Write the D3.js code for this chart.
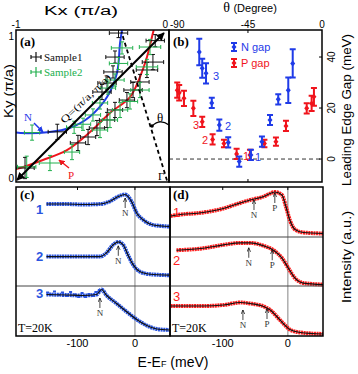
<!DOCTYPE html>
<html>
<head>
<meta charset="utf-8">
<script src="https://cdn.jsdelivr.net/npm/d3@7"></script>
<style>body{margin:0;background:#fff;}</style>
</head>
<body>
<script>
// ---- panel (a): Fermi surface curves and kF points  [kx, ky] / [kx, ky, dkx, dky]
var nCurve = [[-1.0,0.325],[-0.97,0.322],[-0.78,0.329],[-0.65,0.355],[-0.52,0.428],[-0.405,0.559],[-0.34,0.717],[-0.32,0.914],[-0.307,1.0]];
var pCurve = [[-1.0,0.085],[-0.974,0.092],[-0.824,0.145],[-0.667,0.21],[-0.516,0.329],[-0.386,0.454],[-0.255,0.559],[-0.19,0.69],[-0.144,0.822],[-0.105,0.98],[-0.1,1.0]];
var sample1 = [[-0.73,0.33,0.06,0.05],[-0.438,0.592,0.06,0.05],[-0.405,0.651,0.06,0.04],[-0.366,0.724,0.06,0.04],[-0.353,0.822,0.06,0.04],[-0.33,0.98,0.06,0.03],
  [-0.941,0.092,0.06,0.07],[-0.595,0.257,0.05,0.05],[-0.529,0.296,0.05,0.05],[-0.471,0.355,0.05,0.05],[-0.405,0.408,0.05,0.05],[-0.353,0.474,0.05,0.05],
  [-0.275,0.539,0.05,0.05],[-0.235,0.605,0.06,0.05],[-0.19,0.658,0.06,0.05],[-0.144,0.737,0.07,0.05],[-0.105,0.789,0.07,0.05],[-0.09,0.93,0.06,0.04]];
var sample2 = [[-0.895,0.325,0.05,0.05],[-0.62,0.36,0.05,0.04],[-0.562,0.38,0.05,0.04],[-0.497,0.441,0.05,0.04],[-0.451,0.52,0.05,0.04],[-0.399,0.618,0.05,0.04],
  [-0.353,0.671,0.06,0.04],[-0.33,0.78,0.06,0.04],[-0.307,0.882,0.07,0.04],
  [-0.93,0.10,0.06,0.07],[-0.778,0.125,0.07,0.05],[-0.634,0.197,0.05,0.05],[-0.451,0.342,0.05,0.05],[-0.386,0.408,0.05,0.05],[-0.32,0.474,0.05,0.05],
  [-0.255,0.53,0.05,0.05],[-0.19,0.605,0.06,0.05],[-0.144,0.757,0.07,0.05],[-0.124,0.888,0.07,0.05]];

// ---- panel (b): leading edge gap vs theta
var thetaN = [-74.6,-72.8,-70.5,-67,-62.4,-57,-50.3,-43.2,-36.5,-31.6,-26.6,-20.5,-17.8];
var gapN   = [42,35.6,33.6,22,13.3,6.5,-1,1.6,6.8,15.3,23.4,27,37.5];
var errN   = [5.2,3.7,4,2,2.2,2,2,2,2,2,2,5,5.5];
var thetaP = [-88,-86.8,-83.9,-78.2,-72.8,-66.5,-59.6,-51.9,-43.8,-35,-28,-21.9,-9.3,-6.3,-4.9];
var gapP   = [27,26,23.8,19.9,14.6,7.7,6.1,2,1.6,6.1,6.8,13,19.9,21.8,24.4];
var errP   = [3,3,3,3,2,2,1.5,2,2,1.5,1.6,2,2,3,3.5];
var gapTicks = [0,20,40];

// ---- panels (c),(d): EDCs, energy (meV) and intensity (a.u.)
var c1E = [-154,-120,-90,-60,-44,-29,-17.5,-6,3,14.6,32,60];
var c1I = [0.66,0.66,0.65,0.66,0.71,0.81,0.85,0.71,0.48,0.34,0.24,0.21];
var c2E = [-154,-120,-90,-61,-50,-38,-29,-20.5,-12,-3,9,26,60];
var c2I = [0.6,0.6,0.6,0.6,0.67,0.84,0.9,0.84,0.63,0.43,0.29,0.24,0.22];
var c3E = [-154,-119,-91,-67,-58,-50,-32,-15,3,20.5,38,60];
var c3I = [0.83,0.82,0.81,0.83,0.93,0.82,0.65,0.49,0.33,0.21,0.14,0.12];
var c3DotsE = [-152,-146,-140,-133,-126,-119,-112,-105,-98,-92,-86,-80,-74,-68,-62];
var c3DotsI = [0.87,0.83,0.89,0.82,0.87,0.80,0.88,0.83,0.78,0.86,0.78,0.84,0.80,0.88,0.92];
var d1E = [-180,-171,-130,-99,-78,-58,-37,-27,-20,-9,-3,3,11,24,54];
var d1I = [0.42,0.44,0.49,0.57,0.66,0.74,0.81,0.87,0.9,0.84,0.61,0.34,0.15,0.09,0.07];
var d2E = [-171,-130,-99,-73,-58,-37,-22,-9,1,11,24,54];
var d2I = [0.73,0.77,0.84,0.88,0.88,0.82,0.73,0.57,0.36,0.16,0.06,0.03];
var d3E = [-180,-171,-130,-99,-73,-58,-37,-27,-17,-7,3,19,54];
var d3I = [0.6,0.6,0.6,0.62,0.67,0.65,0.59,0.52,0.39,0.25,0.13,0.07,0.04];
// arrows: [energy, intensity at tip, label]
var cArrows = [[[-17,0.78,"N"]],[[-29,0.82,"N"]],[[-61,0.76,"N"]]];
var dArrows = [[[-52,0.74,"N"],[-20,0.88,"P"]],[[-60,0.78,"N"],[-24,0.73,"P"]],[[-69,0.52,"N"],[-32,0.54,"P"]]];
var rowLabels = ["1","2","3"];
var eTicks = [-100,0];

var BLUE = "#1f3be8", RED = "#f0141c", GREEN = "#22b04e";
var serif = "'Liberation Serif','DejaVu Serif',serif";
var sans = "'Liberation Sans',Arial,sans-serif";

var svg = d3.select("body").append("svg").attr("width",358).attr("height",374);
var defs = svg.append("defs");
function mk(id, color, size){
  defs.append("marker").attr("id",id).attr("viewBox","0 0 10 10").attr("refX",9).attr("refY",5)
    .attr("markerWidth",size).attr("markerHeight",size).attr("orient","auto-start-reverse")
    .append("path").attr("d","M0,0L10,5L0,10z").attr("fill",color);
}
mk("ah","#000",4); mk("ahb",BLUE,4); mk("ahr",RED,4);
defs.append("marker").attr("id","sm").attr("viewBox","0 0 10 10").attr("refX",9).attr("refY",5)
  .attr("markerWidth",5).attr("markerHeight",5).attr("orient","auto")
  .append("path").attr("d","M0,1L9,5L0,9").attr("fill","none").attr("stroke","#000").attr("stroke-width",1.5);

// ================= panel (a)
var xa = d3.scaleLinear().domain([-1,0]).range([16,169]);
var ya = d3.scaleLinear().domain([0,1]).range([182,30]);
defs.append("clipPath").attr("id","ca").append("rect").attr("x",16).attr("y",30).attr("width",153).attr("height",152);
var ga = svg.append("g").attr("clip-path","url(#ca)");
var lineA = d3.line().x(function(d){return xa(d[0]);}).y(function(d){return ya(d[1]);}).curve(d3.curveCatmullRom);
ga.append("path").datum(nCurve).attr("d",lineA).attr("fill","none").attr("stroke",BLUE).attr("stroke-width",2);
ga.append("path").datum(pCurve).attr("d",lineA).attr("fill","none").attr("stroke",RED).attr("stroke-width",2);

function crossPath(d){
  var x=xa(d[0]), y=ya(d[1]), x0=xa(d[0]-d[2]), x1=xa(d[0]+d[2]), y0=ya(d[1]-d[3]), y1=ya(d[1]+d[3]);
  return "M"+x0+","+y+"H"+x1+"M"+x+","+y0+"V"+y1+
    "M"+x0+","+(y-2)+"V"+(y+2)+"M"+x1+","+(y-2)+"V"+(y+2)+
    "M"+(x-2)+","+y0+"H"+(x+2)+"M"+(x-2)+","+y1+"H"+(x+2);
}
ga.selectAll(".s1").data(sample1).enter().append("path").attr("d",crossPath)
  .attr("fill","none").attr("stroke","#111").attr("stroke-width",1);
ga.selectAll(".s2").data(sample2).enter().append("path").attr("d",crossPath)
  .attr("fill","none").attr("stroke",GREEN).attr("stroke-width",1);

// Q arrow
svg.append("line").attr("x1",xa(-0.993)).attr("y1",ya(0.013)).attr("x2",xa(-0.033)).attr("y2",ya(0.98))
  .attr("stroke","#000").attr("stroke-width",2).attr("marker-end","url(#ah)").attr("marker-start","url(#ah)");
svg.append("text").attr("transform","translate(88,101) rotate(-44)")
  .attr("text-anchor","middle").attr("font-family",serif).attr("font-size",10)
  .attr("textLength",66).attr("lengthAdjust","spacingAndGlyphs").text("Q=(π/a, π/a)");
// dashed line from Gamma
svg.append("line").attr("x1",xa(-0.013)).attr("y1",ya(0.01)).attr("x2",xa(-0.31)).attr("y2",ya(0.985))
  .attr("stroke","#000").attr("stroke-width",1.8).attr("stroke-dasharray","4,3");
svg.append("circle").attr("cx",xa(-0.111)).attr("cy",ya(0.368)).attr("r",1.8).attr("fill","#000");
svg.append("path").attr("d","M"+xa(-0.111)+","+ya(0.368)+"Q"+xa(-0.06)+","+ya(0.42)+" "+xa(0)+","+ya(0.375))
  .attr("fill","none").attr("stroke","#000").attr("stroke-width",1.2);
svg.append("text").attr("x",157).attr("y",122).attr("font-family",serif).attr("font-size",13).text("θ");
svg.append("text").attr("x",158).attr("y",180).attr("font-family",serif).attr("font-size",11).text("Γ");
// N and P labels
svg.append("text").attr("x",24).attr("y",121).attr("font-family",serif).attr("font-size",11).attr("fill",BLUE).text("N");
svg.append("line").attr("x1",34).attr("y1",123).attr("x2",43).attr("y2",132).attr("stroke",BLUE).attr("stroke-width",1.5).attr("marker-end","url(#ahb)");
svg.append("text").attr("x",68).attr("y",179).attr("font-family",serif).attr("font-size",11).attr("fill",RED).text("P");
svg.append("line").attr("x1",69).attr("y1",168).attr("x2",59).attr("y2",160).attr("stroke",RED).attr("stroke-width",1.5).attr("marker-end","url(#ahr)");

// legend (a)
svg.append("text").attr("x",20).attr("y",46).attr("font-family",serif).attr("font-weight","bold").attr("font-size",13).text("(a)");
[["Sample1","#111",57],["Sample2",GREEN,72]].forEach(function(l){
  svg.append("path").attr("d","M31,"+l[2]+"H41M36,"+(l[2]-5)+"V"+(l[2]+5)+"M31,"+(l[2]-2)+"V"+(l[2]+2)+"M41,"+(l[2]-2)+"V"+(l[2]+2))
    .attr("stroke",l[1]).attr("stroke-width",1.2).attr("fill","none");
  svg.append("text").attr("x",44).attr("y",l[2]+4).attr("font-family",serif).attr("font-size",11).attr("fill",l[1]).text(l[0]);
});
svg.append("rect").attr("x",16).attr("y",30).attr("width",153).attr("height",152).attr("fill","none").attr("stroke","#000").attr("stroke-width",1.5);
// axis labels (a)
svg.append("text").attr("x",14).attr("y",40).attr("text-anchor","end").attr("font-family",sans).attr("font-size",10).text("1");
svg.append("text").attr("x",14).attr("y",182).attr("text-anchor","end").attr("font-family",sans).attr("font-size",10).text("0");
svg.append("text").attr("x",xa(-1)).attr("y",28).attr("text-anchor","middle").attr("font-family",sans).attr("font-size",10).text("-1");
svg.append("text").attr("x",168).attr("y",28).attr("text-anchor","end").attr("font-family",sans).attr("font-size",10).text("0");
svg.append("text").attr("x",81).attr("y",15).attr("text-anchor","middle").attr("font-family",sans).attr("font-size",12)
  .attr("textLength",74).attr("lengthAdjust","spacingAndGlyphs").text("Kx (π/a)");
svg.append("text").attr("transform","translate(13,91) rotate(-90)").attr("text-anchor","middle").attr("font-family",sans).attr("font-size",13)
  .attr("textLength",54).attr("lengthAdjust","spacingAndGlyphs").text("Ky (π/a)");

// ================= panel (b)
var xb = d3.scaleLinear().domain([-93,0]).range([169,322]);
var yb = d3.scaleLinear().domain([-9,50.2]).range([182,31]);
svg.append("line").attr("x1",169).attr("x2",322).attr("y1",yb(0)).attr("y2",yb(0))
  .attr("stroke","#333").attr("stroke-width",1).attr("stroke-dasharray","4,3");
function errBars(th, gp, er, color){
  var pts = th.map(function(t,i){return {t:t,g:gp[i],e:er[i]};});
  var g = svg.append("g");
  g.selectAll("path").data(pts).enter().append("path")
    .attr("d",function(d){var x=xb(d.t), y0=yb(d.g-d.e), y1=yb(d.g+d.e);
      return "M"+x+","+y0+"V"+y1+"M"+(x-3)+","+y0+"H"+(x+3)+"M"+(x-3)+","+y1+"H"+(x+3);})
    .attr("stroke",color).attr("stroke-width",2).attr("fill","none");
  g.selectAll("rect").data(pts).enter().append("path")
    .attr("d",function(d){var x=xb(d.t), y=yb(d.g); return "M"+x+","+(y-3)+"L"+(x+2.5)+","+y+"L"+x+","+(y+3)+"L"+(x-2.5)+","+y+"Z";})
    .attr("fill",color);
}
errBars(thetaP,gapP,errP,RED);
errBars(thetaN,gapN,errN,BLUE);
// point labels
[[213,80,"3",BLUE],[225,130,"2",BLUE],[255,161,"1",BLUE],[193,129,"3",RED],[202,144,"2",RED],[243,160,"1",RED]].forEach(function(l){
  svg.append("text").attr("x",l[0]).attr("y",l[1]).attr("font-family",sans).attr("font-size",11).attr("fill",l[3]).text(l[2]);
});
// legend (b)
[["N gap",BLUE,47],["P gap",RED,63]].forEach(function(l){
  svg.append("path").attr("d","M234,"+(l[2]-4)+"V"+(l[2]+4)+"M231,"+(l[2]-4)+"H237M231,"+(l[2]+4)+"H237")
    .attr("stroke",l[1]).attr("stroke-width",2);
  svg.append("path").attr("d","M234,"+(l[2]-3)+"L236.5,"+l[2]+"L234,"+(l[2]+3)+"L231.5,"+l[2]+"Z").attr("fill",l[1]);
  svg.append("text").attr("x",241).attr("y",l[2]+4).attr("font-family",sans).attr("font-size",11).attr("fill",l[1]).text(l[0]);
});
svg.append("text").attr("x",173).attr("y",46).attr("font-family",serif).attr("font-weight","bold").attr("font-size",13).text("(b)");
svg.append("rect").attr("x",169).attr("y",30).attr("width",153).attr("height",152).attr("fill","none").attr("stroke","#000").attr("stroke-width",1.5);
// ticks (b)
gapTicks.forEach(function(v){
  svg.append("line").attr("x1",319).attr("x2",322).attr("y1",yb(v)).attr("y2",yb(v)).attr("stroke","#000");
  svg.append("text").attr("transform","translate("+335+","+yb(v)+") rotate(-90)").attr("text-anchor","middle")
    .attr("font-family",sans).attr("font-size",10).text(v);
});
[-45].forEach(function(v){
  svg.append("line").attr("x1",xb(v)).attr("x2",xb(v)).attr("y1",30).attr("y2",33).attr("stroke","#000");
  svg.append("line").attr("x1",xb(v)).attr("x2",xb(v)).attr("y1",179).attr("y2",182).attr("stroke","#000");
});
svg.append("text").attr("x",170).attr("y",28).attr("font-family",sans).attr("font-size",10).text("-90");
svg.append("text").attr("x",xb(-45)).attr("y",28).attr("text-anchor","middle").attr("font-family",sans).attr("font-size",10).text("-45");
svg.append("text").attr("x",xb(0)).attr("y",28).attr("text-anchor","middle").attr("font-family",sans).attr("font-size",10).text("0");
var tt = svg.append("text").attr("x",250).attr("y",12).attr("text-anchor","middle");
tt.append("tspan").attr("font-family",serif).attr("font-size",14).text("θ ");
tt.append("tspan").attr("font-family",sans).attr("font-size",11).text("(Degree)");
svg.append("text").attr("transform","translate(351,110) rotate(-90)").attr("text-anchor","middle").attr("font-family",sans).attr("font-size",12)
  .attr("textLength",152).attr("lengthAdjust","spacingAndGlyphs").text("Leading Edge Gap (meV)");

// ================= panels (c),(d)
var rowTop = [187,237,286], rowBot = [237,286,336];
var xc = d3.scaleLinear().domain([-207,61]).range([16,170]);
var xd = d3.scaleLinear().domain([-181,54]).range([170,323]);
function edcPanel(xs, x0, x1, rows, color, arrows, dots, lab){
  var clipId = "cl"+x0;
  defs.append("clipPath").attr("id",clipId).append("rect").attr("x",x0).attr("y",187).attr("width",x1-x0).attr("height",149);
  var g = svg.append("g").attr("clip-path","url(#"+clipId+")");
  // zero line
  g.append("line").attr("x1",xs(0)).attr("x2",xs(0)).attr("y1",187).attr("y2",336).attr("stroke","#999").attr("stroke-width",1.2);
  rows.forEach(function(r,i){
    var ys = d3.scaleLinear().domain([0,1]).range([rowBot[i],rowTop[i]]);
    var pts = r[0].map(function(e,k){return [e,r[1][k]];});
    var ln = d3.line().x(function(d){return xs(d[0]);}).y(function(d){return ys(d[1]);}).curve(d3.curveMonotoneX);
    g.append("path").datum(pts).attr("d",ln).attr("fill","none").attr("stroke",color).attr("stroke-width",4)
      .attr("stroke-dasharray","2,0.6");
    if (dots && dots[i]) {
      var dp = dots[i][0].map(function(e,k){return [e,dots[i][1][k]];});
      g.selectAll(".dt"+i).data(dp).enter().append("rect").attr("x",function(d){return xs(d[0])-1.5;}).attr("y",function(d){return ys(d[1])-1;})
        .attr("width",3).attr("height",2).attr("fill",color);
    }
    g.append("path").datum(pts).attr("d",ln).attr("fill","none").attr("stroke","#111").attr("stroke-width",1.2);
    arrows[i].forEach(function(a){
      var x = xs(a[0]), yt = ys(a[1]);
      g.append("line").attr("x1",x).attr("x2",x).attr("y1",yt+10).attr("y2",yt).attr("stroke","#333").attr("stroke-width",0.9).attr("marker-end","url(#sm)");
      g.append("text").attr("x",x).attr("y",yt+18).attr("text-anchor","middle").attr("font-family",serif).attr("font-size",9).attr("fill","#333").text(a[2]);
    });
    if (i>0) svg.append("line").attr("x1",x0).attr("x2",x1).attr("y1",rowTop[i]).attr("y2",rowTop[i]).attr("stroke","#444").attr("stroke-width",1);
    svg.append("text").attr("x",lab.x).attr("y",lab.y[i]).attr("font-family",sans).attr("font-weight",lab.w)
      .attr("font-size",13).attr("fill",color).text(rowLabels[i]);
  });
  eTicks.forEach(function(v){
    svg.append("line").attr("x1",xs(v)).attr("x2",xs(v)).attr("y1",187).attr("y2",190).attr("stroke","#000");
    svg.append("text").attr("x",xs(v)).attr("y",347).attr("text-anchor","middle").attr("font-family",sans).attr("font-size",11).text(v);
  });
  svg.append("rect").attr("x",x0).attr("y",187).attr("width",x1-x0).attr("height",149).attr("fill","none").attr("stroke","#000").attr("stroke-width",1.5);
  svg.append("text").attr("x",x0+2).attr("y",332).attr("font-family",serif).attr("font-size",12).text("T=20K");
}
edcPanel(xc,16,170,[[c1E,c1I],[c2E,c2I],[c3E,c3I]],"#2a55e0",cArrows,[null,null,[c3DotsE,c3DotsI]],{x:36,y:[214,261,298],w:"bold"});
edcPanel(xd,170,323,[[d1E,d1I],[d2E,d2I],[d3E,d3I]],"#ff2020",dArrows,null,{x:173,y:[217,265,301],w:"normal"});
svg.append("text").attr("x",20).attr("y",199).attr("font-family",serif).attr("font-weight","bold").attr("font-size",13).text("(c)");
svg.append("text").attr("x",173).attr("y",199).attr("font-family",serif).attr("font-weight","bold").attr("font-size",13).text("(d)");
var xl = svg.append("text").attr("x",173).attr("y",367).attr("text-anchor","middle").attr("font-family",sans).attr("font-size",14);
xl.append("tspan").text("E-E");
xl.append("tspan").attr("font-size",9).text("F");
xl.append("tspan").text(" (meV)");
svg.append("text").attr("transform","translate(351,257) rotate(-90)").attr("text-anchor","middle").attr("font-family",sans).attr("font-size",12)
  .attr("textLength",92).attr("lengthAdjust","spacingAndGlyphs").text("Intensity (a.u.)");
</script>
</body>
</html>
